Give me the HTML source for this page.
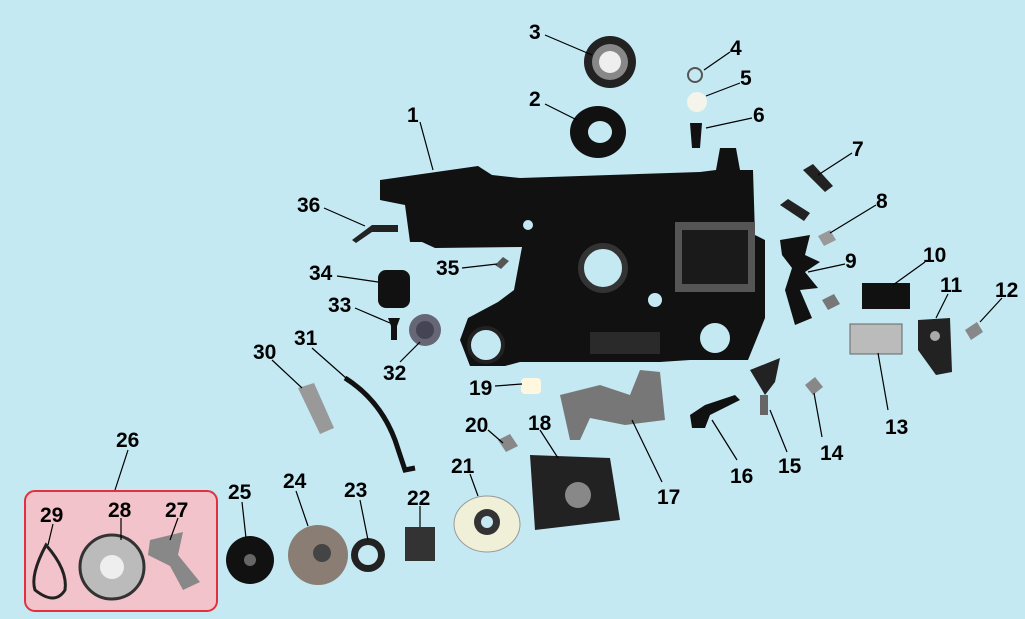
<!DOCTYPE html>
<html><head><meta charset="utf-8"><style>
html,body{margin:0;padding:0;background:#c4e9f3;}
svg{display:block}
text{font-family:"Liberation Sans",sans-serif;font-weight:bold;font-size:21px;fill:#000}
</style></head><body>
<svg width="1025" height="619" viewBox="0 0 1025 619" xmlns="http://www.w3.org/2000/svg">
<rect width="1025" height="619" fill="#c4e9f3"/>
<!-- pink box -->
<rect x="25" y="491" width="192" height="120" rx="10" fill="#f3c3cb" stroke="#e2303f" stroke-width="2"/>

<!-- main housing -->
<path d="M380,180 L478,166 L492,175 L520,178 L700,172 L716,170 L720,148 L736,148 L740,170 L753,170 L755,235 L765,240 L765,318 L748,360 L690,360 L660,362 L520,362 L505,366 L470,366 L460,340 L468,318 L498,302 L514,290 L522,247 L435,248 L422,242 L410,242 L405,205 L380,200 Z" fill="#111"/>
<circle cx="603" cy="268" r="22" fill="#c4e9f3" stroke="#333" stroke-width="6"/>
<circle cx="486" cy="345" r="17" fill="#c4e9f3" stroke="#222" stroke-width="4"/>
<circle cx="715" cy="338" r="15" fill="#c4e9f3"/>
<circle cx="655" cy="300" r="7" fill="#c4e9f3"/>
<circle cx="528" cy="225" r="5" fill="#c4e9f3"/>
<rect x="675" y="222" width="80" height="70" fill="#555"/>
<rect x="682" y="230" width="66" height="54" fill="#1a1a1a"/>
<rect x="590" y="332" width="70" height="22" fill="#2a2a2a"/>

<!-- parts -->
<circle cx="610" cy="62" r="26" fill="#222"/><circle cx="610" cy="62" r="18" fill="#888"/><circle cx="610" cy="62" r="11" fill="#eee"/>
<ellipse cx="598" cy="132" rx="28" ry="26" fill="#111"/><ellipse cx="600" cy="132" rx="12" ry="11" fill="#c4e9f3"/>
<circle cx="695" cy="75" r="7" fill="none" stroke="#555" stroke-width="2"/>
<circle cx="697" cy="102" r="10" fill="#f4f4ea"/>
<path d="M690,123 L702,123 L700,148 L692,148 Z" fill="#111"/>
<path d="M803,170 l10,-6 l20,22 l-8,6 Z" fill="#222"/>
<path d="M780,205 l8,-6 l22,14 l-6,8 Z" fill="#222"/>
<path d="M818,236 l12,-6 l6,10 l-12,6Z" fill="#999"/>
<path d="M780,240 L810,235 L805,255 L820,262 L805,272 L818,288 L800,290 L812,318 L795,325 L785,290 L792,268 L782,255 Z" fill="#111"/>
<path d="M822,300 l12,-6 l6,10 l-12,6Z" fill="#777"/>
<rect x="862" y="283" width="48" height="26" fill="#111"/>
<path d="M918,320 L950,318 L952,372 L936,375 L918,350 Z" fill="#222"/>
<circle cx="935" cy="336" r="5" fill="#aaa"/>
<path d="M965,330 l12,-8 l6,10 l-12,8Z" fill="#888"/>
<rect x="850" y="324" width="52" height="30" fill="#bbb" stroke="#666"/>
<path d="M805,385 l10,-8 l8,10 l-10,8Z" fill="#888"/>
<path d="M750,370 L780,358 L775,382 L765,395 Z" fill="#222"/>
<path d="M760,395 l8,0 l0,20 l-8,0Z" fill="#666"/>
<path d="M690,415 L705,405 L735,395 L740,400 L710,415 L705,428 L692,428 Z" fill="#111"/>
<rect x="521" y="378" width="20" height="16" rx="4" fill="#fff7e0"/>
<path d="M560,395 L600,385 L630,395 L640,370 L660,372 L665,420 L625,425 L590,418 L580,440 L570,440 Z" fill="#777"/>
<path d="M498,440 l12,-6 l8,12 l-12,6Z" fill="#888"/>
<path d="M530,455 L610,458 L620,520 L535,530 Z" fill="#222"/><circle cx="578" cy="495" r="13" fill="#888"/>
<ellipse cx="487" cy="524" rx="33" ry="28" fill="#f0f0d8" stroke="#999"/><circle cx="487" cy="522" r="13" fill="#333"/><circle cx="487" cy="522" r="6" fill="#c4e9f3"/>
<rect x="405" y="527" width="30" height="34" fill="#333"/>
<circle cx="368" cy="555" r="17" fill="#222"/><circle cx="368" cy="555" r="10" fill="#c4e9f3"/>
<ellipse cx="318" cy="555" rx="30" ry="30" fill="#8a7e74"/><circle cx="322" cy="553" r="9" fill="#444"/>
<ellipse cx="250" cy="560" rx="24" ry="24" fill="#111"/><circle cx="250" cy="560" r="6" fill="#666"/>
<circle cx="112" cy="567" r="32" fill="#bbb" stroke="#333" stroke-width="3"/><circle cx="112" cy="567" r="12" fill="#eee"/>
<path d="M150,540 L183,532 L178,555 L200,582 L183,590 L170,566 L148,555 Z" fill="#888"/>
<path d="M46,545 Q30,575 35,590 Q55,606 65,590 Q68,570 46,545 Z" fill="none" stroke="#222" stroke-width="3"/>
<path d="M298,388 l16,-5 l20,45 l-14,6 Z" fill="#999"/>
<path d="M345,378 Q380,400 395,440 L405,470 L415,468" fill="none" stroke="#111" stroke-width="5"/>
<circle cx="425" cy="330" r="16" fill="#667"/><circle cx="425" cy="330" r="9" fill="#445"/>
<path d="M388,318 l12,0 l-3,8 l0,14 l-6,0 l0,-14Z" fill="#111"/>
<rect x="378" y="270" width="32" height="38" rx="8" fill="#111"/>
<path d="M495,265 l8,-8 l6,4 l-8,8Z" fill="#555"/>
<path d="M352,240 L372,225 L398,225 L398,232 L372,232 L356,243Z" fill="#222"/>

<!-- leader lines -->
<g stroke="#000" stroke-width="1.2" fill="none">
<line x1="420" y1="122" x2="433" y2="170"/>
<line x1="545" y1="104" x2="577" y2="120"/>
<line x1="545" y1="35" x2="592" y2="55"/>
<line x1="730" y1="52" x2="704" y2="70"/>
<line x1="740" y1="83" x2="706" y2="96"/>
<line x1="752" y1="118" x2="706" y2="128"/>
<line x1="852" y1="153" x2="818" y2="175"/>
<line x1="876" y1="205" x2="830" y2="233"/>
<line x1="845" y1="264" x2="808" y2="272"/>
<line x1="925" y1="262" x2="893" y2="285"/>
<line x1="948" y1="294" x2="936" y2="318"/>
<line x1="1002" y1="298" x2="980" y2="322"/>
<line x1="888" y1="410" x2="878" y2="353"/>
<line x1="822" y1="437" x2="814" y2="393"/>
<line x1="787" y1="452" x2="770" y2="410"/>
<line x1="737" y1="460" x2="712" y2="420"/>
<line x1="662" y1="482" x2="632" y2="420"/>
<line x1="540" y1="430" x2="558" y2="458"/>
<line x1="495" y1="386" x2="522" y2="384"/>
<line x1="488" y1="430" x2="503" y2="443"/>
<line x1="470" y1="474" x2="478" y2="496"/>
<line x1="420" y1="506" x2="420" y2="527"/>
<line x1="360" y1="500" x2="368" y2="540"/>
<line x1="296" y1="491" x2="308" y2="526"/>
<line x1="242" y1="502" x2="246" y2="538"/>
<line x1="128" y1="450" x2="115" y2="490"/>
<line x1="178" y1="518" x2="170" y2="540"/>
<line x1="121" y1="518" x2="121" y2="540"/>
<line x1="53" y1="524" x2="48" y2="545"/>
<line x1="272" y1="360" x2="302" y2="388"/>
<line x1="312" y1="348" x2="346" y2="378"/>
<line x1="400" y1="362" x2="420" y2="342"/>
<line x1="355" y1="308" x2="390" y2="323"/>
<line x1="337" y1="276" x2="378" y2="282"/>
<line x1="462" y1="268" x2="497" y2="264"/>
<line x1="324" y1="208" x2="365" y2="226"/>
</g>

<!-- labels -->
<g>
<text x="407" y="122">1</text>
<text x="529" y="106">2</text>
<text x="529" y="39">3</text>
<text x="730" y="55">4</text>
<text x="740" y="85">5</text>
<text x="753" y="122">6</text>
<text x="852" y="156">7</text>
<text x="876" y="208">8</text>
<text x="845" y="268">9</text>
<text x="923" y="262">10</text>
<text x="940" y="292">11</text>
<text x="995" y="297">12</text>
<text x="885" y="434">13</text>
<text x="820" y="460">14</text>
<text x="778" y="473">15</text>
<text x="730" y="483">16</text>
<text x="657" y="504">17</text>
<text x="528" y="430">18</text>
<text x="469" y="395">19</text>
<text x="465" y="432">20</text>
<text x="451" y="473">21</text>
<text x="407" y="505">22</text>
<text x="344" y="497">23</text>
<text x="283" y="488">24</text>
<text x="228" y="499">25</text>
<text x="116" y="447">26</text>
<text x="165" y="517">27</text>
<text x="108" y="517">28</text>
<text x="40" y="522">29</text>
<text x="253" y="359">30</text>
<text x="294" y="345">31</text>
<text x="383" y="380">32</text>
<text x="328" y="312">33</text>
<text x="309" y="280">34</text>
<text x="436" y="275">35</text>
<text x="297" y="212">36</text>
</g>
</svg>
</body></html>
